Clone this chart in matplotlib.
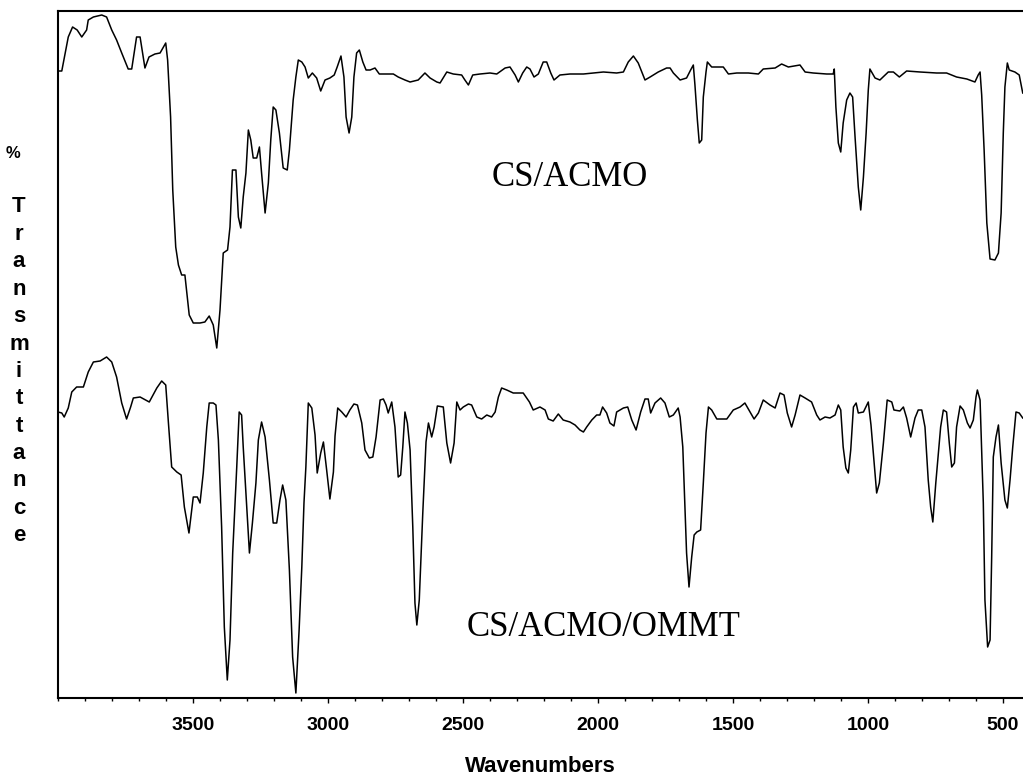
import numpy as np
import matplotlib
matplotlib.use('Agg')
import matplotlib.pyplot as plt
from matplotlib.ticker import MultipleLocator

#____________________________ DATOS ____________________________________
# espectro superior: CS/ACMO (numero de onda, transmitancia relativa)
w_acmo = [4000, 3986, 3962, 3946, 3929, 3912, 3894, 3888, 3869, 3838, 3820, 3801, 3783, 3764,
          3740, 3727, 3709, 3696, 3678, 3663, 3641, 3622, 3601, 3594, 3583, 3575, 3564, 3554,
          3542, 3530, 3514, 3499, 3474, 3456, 3440, 3425, 3412, 3400, 3388, 3372, 3363, 3354,
          3341, 3332, 3323, 3314, 3304, 3295, 3286, 3277, 3264, 3254, 3246, 3233, 3221, 3212,
          3203, 3193, 3180, 3166, 3151, 3143, 3129, 3119, 3110, 3097, 3085, 3073, 3058, 3042,
          3027, 3011, 2993, 2977, 2966, 2952, 2941, 2933, 2922, 2912, 2904, 2894, 2884, 2871,
          2859, 2844, 2826, 2810, 2758, 2740, 2715, 2696, 2666, 2641, 2622, 2597, 2585, 2560,
          2536, 2505, 2493, 2480, 2464, 2437, 2400, 2375, 2344, 2326, 2307, 2295, 2279, 2264,
          2252, 2237, 2221, 2203, 2190, 2175, 2163, 2141, 2104, 2054, 2017, 1980, 1931, 1906,
          1888, 1869, 1851, 1826, 1807, 1777, 1746, 1733, 1721, 1696, 1672, 1657, 1647, 1641,
          1632, 1625, 1616, 1610, 1600, 1595, 1579, 1536, 1517, 1486, 1443, 1406, 1388, 1344,
          1320, 1295, 1252, 1233, 1203, 1153, 1129, 1125, 1119, 1110, 1101, 1092, 1079, 1067,
          1057, 1048, 1036, 1027, 1017, 1007, 999, 993, 974, 956, 925, 906, 884, 857,
          807, 746, 709, 672, 634, 604, 592, 585, 579, 570, 560, 548, 530, 517,
          507, 499, 493, 484, 477, 456, 440, 427]
t_acmo = [627, 627, 661, 671, 668, 661, 668, 678, 681, 683, 681, 668, 658, 645,
          629, 629, 661, 661, 630, 641, 644, 645, 655, 638, 581, 508, 451, 433,
          423, 423, 383, 375, 375, 376, 382, 373, 350, 388, 445, 448, 471, 528,
          528, 481, 470, 501, 525, 568, 558, 540, 540, 551, 525, 485, 515, 558,
          591, 588, 565, 530, 528, 548, 598, 621, 638, 636, 631, 620, 625, 620,
          607, 618, 620, 623, 631, 642, 621, 581, 565, 581, 621, 645, 648, 636,
          628, 628, 630, 624, 624, 621, 618, 616, 618, 625, 620, 616, 615, 626,
          624, 623, 618, 613, 623, 624, 625, 624, 630, 631, 623, 616, 625, 631,
          629, 621, 624, 636, 636, 625, 618, 623, 624, 624, 625, 626, 625, 626,
          636, 642, 635, 618, 621, 626, 630, 630, 625, 618, 620, 628, 633, 613,
          578, 555, 558, 601, 626, 636, 631, 631, 624, 625, 625, 624, 629, 630,
          634, 631, 633, 626, 625, 624, 624, 629, 591, 555, 546, 575, 598, 605,
          601, 561, 511, 488, 521, 565, 608, 629, 620, 618, 626, 626, 621, 627,
          626, 625, 625, 621, 619, 616, 623, 626, 603, 548, 475, 439, 438, 445,
          485, 565, 611, 635, 628, 626, 623, 605]

# espectro inferior: CS/ACMO/OMMT
w_ommt = [4000, 3986, 3977, 3962, 3949, 3931, 3906, 3888, 3869, 3844, 3820, 3801, 3783, 3764,
          3746, 3731, 3721, 3696, 3662, 3634, 3616, 3601, 3591, 3579, 3560, 3544, 3532, 3515,
          3499, 3484, 3474, 3462, 3449, 3440, 3425, 3415, 3406, 3394, 3384, 3373, 3363, 3353,
          3338, 3329, 3320, 3314, 3301, 3291, 3280, 3267, 3258, 3246, 3233, 3217, 3203, 3190,
          3178, 3168, 3156, 3143, 3131, 3119, 3107, 3097, 3089, 3082, 3073, 3060, 3048, 3040,
          3027, 3017, 3005, 2993, 2980, 2974, 2964, 2949, 2933, 2919, 2904, 2891, 2875, 2863,
          2847, 2834, 2822, 2807, 2795, 2785, 2777, 2764, 2752, 2740, 2731, 2723, 2715, 2706,
          2696, 2686, 2678, 2671, 2662, 2649, 2637, 2628, 2616, 2607, 2595, 2573, 2560, 2546,
          2533, 2523, 2511, 2499, 2480, 2468, 2449, 2431, 2412, 2394, 2381, 2369, 2357, 2338,
          2314, 2277, 2254, 2240, 2215, 2196, 2184, 2166, 2147, 2129, 2104, 2085, 2067, 2054,
          2042, 2023, 2005, 1993, 1983, 1968, 1956, 1941, 1931, 1906, 1890, 1875, 1859, 1842,
          1826, 1814, 1805, 1789, 1768, 1752, 1736, 1721, 1703, 1696, 1686, 1678, 1672, 1663,
          1653, 1644, 1634, 1620, 1610, 1600, 1591, 1579, 1560, 1523, 1499, 1474, 1456, 1437,
          1422, 1406, 1388, 1363, 1344, 1326, 1311, 1299, 1283, 1270, 1252, 1233, 1209, 1190,
          1178, 1159, 1141, 1122, 1110, 1101, 1092, 1082, 1073, 1064, 1054, 1044, 1036, 1017,
          999, 989, 978, 968, 958, 943, 929, 912, 904, 882, 869, 857, 842, 826,
          814, 801, 789, 777, 768, 760, 749, 740, 731, 721, 709, 699, 690, 680,
          672, 659, 647, 632, 622, 610, 600, 595, 585, 579, 573, 567, 557, 548,
          542, 536, 526, 517, 507, 493, 484, 474, 464, 452, 440, 427]
t_ommt = [286, 285, 281, 290, 306, 311, 311, 326, 336, 337, 341, 336, 321, 295,
          279, 291, 300, 301, 296, 310, 317, 313, 275, 231, 226, 223, 191, 165,
          201, 201, 195, 225, 271, 295, 295, 293, 258, 171, 71, 18, 58, 145,
          231, 286, 283, 251, 191, 145, 175, 215, 258, 276, 261, 218, 175, 175,
          198, 213, 198, 128, 41, 5, 68, 131, 195, 231, 295, 290, 263, 225,
          245, 256, 228, 199, 226, 262, 290, 286, 281, 288, 294, 293, 275, 248,
          240, 241, 261, 298, 299, 293, 285, 296, 271, 221, 223, 251, 286, 275,
          248, 171, 95, 73, 98, 185, 256, 275, 261, 271, 292, 291, 255, 235,
          255, 296, 288, 291, 294, 293, 281, 279, 283, 281, 286, 301, 310, 308,
          305, 305, 296, 288, 291, 288, 279, 277, 284, 278, 276, 273, 268, 266,
          271, 278, 283, 283, 291, 285, 275, 272, 286, 290, 291, 278, 268, 286,
          299, 299, 285, 295, 300, 295, 281, 283, 290, 281, 251, 191, 145, 111,
          141, 163, 166, 168, 215, 265, 291, 288, 279, 279, 288, 291, 295, 286,
          279, 285, 298, 293, 290, 305, 303, 285, 271, 283, 303, 300, 296, 283,
          278, 281, 280, 283, 293, 288, 251, 230, 225, 248, 291, 295, 285, 286,
          296, 273, 238, 205, 215, 255, 298, 296, 288, 287, 291, 280, 261, 280,
          288, 288, 271, 218, 191, 176, 215, 243, 271, 288, 286, 255, 231, 235,
          271, 292, 288, 275, 270, 278, 301, 308, 298, 248, 195, 98, 51, 58,
          141, 241, 261, 273, 235, 198, 190, 218, 251, 286, 285, 280]

etiquetas = ['CS/ACMO', 'CS/ACMO/OMMT']
eje_y = '%'
letras_y = 'Transmittance'

#____________________________ GRAFICO ____________________________________
fig = plt.figure(figsize=(10.23, 7.77), dpi=100)
# el borde derecho de la imagen original esta recortado
ax = fig.add_axes([58 / 1023, 79 / 777, (1023 - 58) / 1023, 687 / 777])

ax.plot(w_acmo, t_acmo, color='black', lw=1.1)
ax.plot(w_ommt, t_ommt, color='black', lw=1.1)

ax.set_xlim(4000, 426)
ax.set_ylim(0, 687)
ax.set_yticks([])
ax.spines['right'].set_visible(False)
for s in ['left', 'top', 'bottom']:
    ax.spines[s].set_linewidth(1.5)

ax.xaxis.set_major_locator(MultipleLocator(500))
ax.xaxis.set_minor_locator(MultipleLocator(100))
ax.set_xticks([3500, 3000, 2500, 2000, 1500, 1000, 500])
ax.tick_params(axis='x', which='major', direction='out', length=3.6, width=1, pad=10)
ax.tick_params(axis='x', which='minor', direction='out', length=2.2, width=1)
for lab in ax.get_xticklabels():
    lab.set_fontfamily('Liberation Sans')
    lab.set_fontweight('bold')
    lab.set_fontsize(14)

ax.set_xlabel('Wavenumbers', fontfamily='Liberation Sans', fontweight='bold',
              fontsize=16, labelpad=16)

# textos de cada espectro
ax.text(2104, 521, etiquetas[0], ha='center', va='center',
        fontfamily='Liberation Serif', fontsize=25)
ax.text(1981, 70, etiquetas[1], ha='center', va='center',
        fontfamily='Liberation Serif', fontsize=25)

# etiqueta vertical letra por letra
fig.text(13 / 1023, 1 - 154 / 777, eje_y, ha='center', va='center',
         fontfamily='Liberation Sans', fontweight='bold', fontsize=12)
for i, c in enumerate(letras_y):
    fig.text(19 / 1023, 1 - (207 + 27.4 * i) / 777, c, ha='center', va='center',
             fontfamily='Liberation Sans', fontweight='bold', fontsize=16)

plt.savefig('out.png', dpi=100)
